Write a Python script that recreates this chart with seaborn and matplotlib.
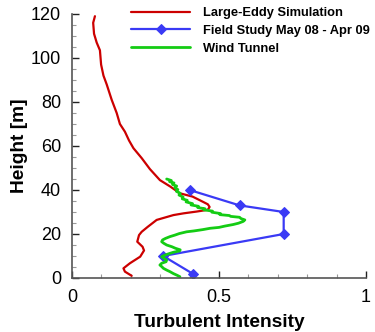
import matplotlib
matplotlib.use("Agg")
import matplotlib.pyplot as plt
from matplotlib.ticker import MultipleLocator
import seaborn as sns
import pandas as pd

# Large-eddy simulation profile (turbulent intensity vs. height)
les_height = [119, 116, 111, 107, 103.5, 97, 92, 88, 81, 75, 70, 66.5, 62.5, 59,
              54.5, 49.5, 44.5, 41.5, 38.5, 37, 35, 33.5, 32.3, 31, 30.2, 29.4,
              28.6, 26.4, 23.3, 21, 19.5, 16.5, 14.2, 12.5, 9.7, 6.7, 4.4, 2.9, 1]
les_ti = [0.078, 0.072, 0.075, 0.084, 0.095, 0.099, 0.107, 0.118, 0.135, 0.152,
          0.163, 0.180, 0.194, 0.209, 0.237, 0.265, 0.299, 0.335, 0.367, 0.41,
          0.44, 0.462, 0.468, 0.462, 0.424, 0.38, 0.345, 0.288, 0.258, 0.237,
          0.228, 0.222, 0.24, 0.245, 0.232, 0.197, 0.175, 0.18, 0.203]

# Field measurements
field_height = [40, 33, 30, 20, 10, 2]
field_ti = [0.40, 0.57, 0.72, 0.72, 0.31, 0.41]

# Wind tunnel profile
wt_height = [45.0, 44.3, 43.8, 43.2, 42.5, 41.8, 41.0, 40.2, 39.4, 38.5, 37.7,
             36.8, 36.0, 35.3, 34.6, 33.8, 33.2, 32.6, 32.0, 31.5, 31.0, 30.4,
             29.9, 29.3, 28.8, 28.4, 28.0, 27.6, 27.0, 26.4, 25.7, 24.9, 24.3,
             23.6, 23.0, 22.6, 22.0, 21.4, 21.0, 20.2, 19.5, 18.8, 18.0, 17.3,
             16.5, 15.8, 15.0, 14.2, 13.5, 12.8, 12.3, 11.7, 11.2, 10.5, 9.7,
             9.0, 8.2, 7.4, 6.7, 5.9, 5.2, 4.4, 3.6, 2.9, 2.0, 1.2, 0.6]
wt_ti = [0.322, 0.338, 0.332, 0.347, 0.342, 0.356, 0.350, 0.360, 0.355, 0.368,
         0.364, 0.378, 0.375, 0.392, 0.388, 0.410, 0.405, 0.430, 0.428, 0.452,
         0.448, 0.478, 0.476, 0.505, 0.503, 0.535, 0.540, 0.570, 0.575, 0.588,
         0.582, 0.566, 0.548, 0.520, 0.500, 0.470, 0.445, 0.415, 0.390, 0.365,
         0.350, 0.333, 0.318, 0.308, 0.305, 0.312, 0.322, 0.340, 0.352, 0.368,
         0.366, 0.345, 0.333, 0.318, 0.305, 0.312, 0.322, 0.320, 0.305, 0.299,
         0.305, 0.311, 0.322, 0.333, 0.345, 0.358, 0.367]

x_ticks = [0, 0.5, 1]
x_tick_labels = ["0", "0.5", "1"]
y_ticks = [0, 20, 40, 60, 80, 100, 120]

sns.set_style("ticks")
plt.rcParams["font.family"] = ["Liberation Sans", "DejaVu Sans"]
plt.rcParams["text.color"] = "black"
plt.rcParams["axes.labelcolor"] = "black"
plt.rcParams["xtick.labelcolor"] = "black"
plt.rcParams["ytick.labelcolor"] = "black"

fig = plt.figure(figsize=(3.75, 3.32), dpi=100)
ax = fig.add_axes([72 / 375, 1 - 278 / 332, 294 / 375, 264 / 332])

les = pd.DataFrame({"ti": les_ti, "h": les_height})
field = pd.DataFrame({"ti": field_ti, "h": field_height})
wt = pd.DataFrame({"ti": wt_ti, "h": wt_height})

sns.lineplot(data=les, x="ti", y="h", sort=False, estimator=None, ax=ax,
             color="#cc0000", linewidth=1.6, label="Large-Eddy Simulation")
sns.lineplot(data=field, x="ti", y="h", sort=False, estimator=None, ax=ax,
             color="#3a3af5", linewidth=1.6, marker="D", markersize=5.5,
             markeredgecolor="#3a3af5", label="Field Study May 08 - Apr 09")
sns.lineplot(data=wt, x="ti", y="h", sort=False, estimator=None, ax=ax,
             color="#14cc14", linewidth=2.0, label="Wind Tunnel")

ax.set_xlim(0, 1)
ax.set_ylim(0, 120)
ax.set_xticks(x_ticks)
ax.set_xticklabels(x_tick_labels)
ax.set_yticks(y_ticks)
ax.xaxis.set_minor_locator(MultipleLocator(0.1))
ax.yaxis.set_minor_locator(MultipleLocator(5))

for side in ("top", "right"):
    ax.spines[side].set_visible(False)
for side in ("left", "bottom"):
    ax.spines[side].set_color("#555555")
    ax.spines[side].set_linewidth(1.2)

ax.tick_params(which="major", direction="in", length=5, width=1.0,
               color="#222222", labelsize=13, pad=8)
ax.tick_params(which="minor", direction="in", length=3, width=0.8,
               color="#999999")

ax.set_xlabel("Turbulent Intensity", fontsize=13.8, fontweight="bold", labelpad=6)
ax.set_ylabel("Height [m]", fontsize=13.8, fontweight="bold", labelpad=2)

ax.get_legend().remove()
handles, labels = ax.get_legend_handles_labels()
fig.legend(handles, labels, loc="upper left",
           bbox_to_anchor=(131 / 375, 1 - 7 / 332),
           frameon=False, borderpad=0, borderaxespad=0,
           handlelength=4.6, handletextpad=0.95, labelspacing=0.45,
           prop={"weight": "bold", "size": 9.3})

fig.savefig("out.png", dpi=100)
